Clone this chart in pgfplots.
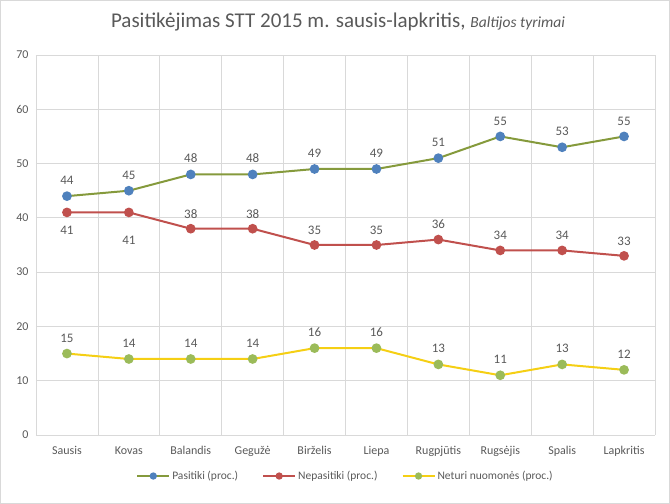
\documentclass[border=0pt]{standalone}
\usepackage{pgfplots}
\pgfplotsset{compat=1.18}
\usepackage{fontspec}
\setmainfont{Carlito}
\definecolor{olv}{HTML}{859A3C}
\definecolor{blu}{HTML}{4F81BD}
\definecolor{rd}{HTML}{C0504D}
\definecolor{ylw}{HTML}{F5CF14}
\definecolor{grn}{HTML}{9BBB59}
\definecolor{txt}{HTML}{595959}
\definecolor{grd}{HTML}{D9D9D9}
\begin{document}
\begin{tikzpicture}
\begin{axis}[
  name=ax, anchor=south west, at={(0pt,0pt)},
  scale only axis, width=619pt, height=380pt,
  xmin=-0.5, xmax=9.5, ymin=0, ymax=70,
  ytick={0,10,...,70},
  xtick={0,...,9},
  xticklabels={Sausis,Kovas,Balandis,Gegužė,Birželis,Liepa,Rugpjūtis,Rugsėjis,Spalis,Lapkritis},
  minor xtick={-0.5,0.5,...,9.5},
  xminorgrids, ymajorgrids,
  grid style={grd, line width=0.8pt},
  minor grid style={grd, line width=0.8pt},
  axis line style={draw=none},
  major tick length=0pt, minor tick length=0pt,
  tick label style={text=txt, font=\fontsize{12}{14}\selectfont},
  /pgf/number format/assume math mode=true,
  xticklabel style={yshift=-8pt},
  yticklabel style={xshift=-4pt},
  every node near coord/.append style={text=txt, font=\fontsize{13}{15}\selectfont},
  legend style={at={(0.5,-0.108)}, anchor=center, draw=none, fill=none, legend columns=3,
    font=\fontsize{11.5}{13}\selectfont, text=txt,
    /tikz/every even column/.append style={column sep=22pt}},
  legend image code/.code={\draw[mark repeat=2,mark phase=2,mark size=2.6pt] plot coordinates {(0pt,0pt)(16pt,0pt)(32pt,0pt)};},
  clip=false,
]
\addplot[olv, line width=2pt, mark=*, mark size=3.8pt, mark options={fill=blu, draw=blu},
  nodes near coords, every node near coord/.append style={anchor=south, yshift=7pt}]
  coordinates {(0,44)(1,45)(2,48)(3,48)(4,49)(5,49)(6,51)(7,55)(8,53)(9,55)};
\addlegendentry{Pasitiki (proc.)}
\addplot[rd, line width=2pt, mark=*, mark size=3.8pt, mark options={fill=rd, draw=rd}]
  coordinates {(0,41)(1,41)(2,38)(3,38)(4,35)(5,35)(6,36)(7,34)(8,34)(9,33)};
\addlegendentry{Nepasitiki (proc.)}
\addplot[ylw, line width=2pt, mark=*, mark size=3.8pt, mark options={fill=grn, draw=grn},
  nodes near coords, every node near coord/.append style={anchor=south, yshift=7pt}]
  coordinates {(0,15)(1,14)(2,14)(3,14)(4,16)(5,16)(6,13)(7,11)(8,13)(9,12)};
\addlegendentry{Neturi nuomonės (proc.)}
\addplot[draw=none, mark=none, forget plot, nodes near coords,
  every node near coord/.append style={anchor=south, yshift=7pt}]
  coordinates {(2,38)(3,38)(4,35)(5,35)(6,36)(7,34)(8,34)(9,33)};
\addplot[draw=none, mark=none, forget plot, nodes near coords,
  every node near coord/.append style={anchor=north, yshift=-10pt}]
  coordinates {(0,41)};
\addplot[draw=none, mark=none, forget plot, nodes near coords,
  every node near coord/.append style={anchor=north, yshift=-20pt}]
  coordinates {(1,41)};
\end{axis}
\draw[draw=grd,line width=0.8pt] ([shift={(-35.6pt,-68.6pt)}]ax.south west) rectangle ([shift={(14.6pt,54.6pt)}]ax.north east);
\node[text=txt,font=\fontsize{21}{24}\selectfont] at ([shift={(302pt,33pt)}]ax.north west) {Pasitikėjimas STT 2015 m. sausis-lapkritis, {\fontsize{15.5}{18}\selectfont\itshape Baltijos tyrimai}};
\end{tikzpicture}
\end{document}
